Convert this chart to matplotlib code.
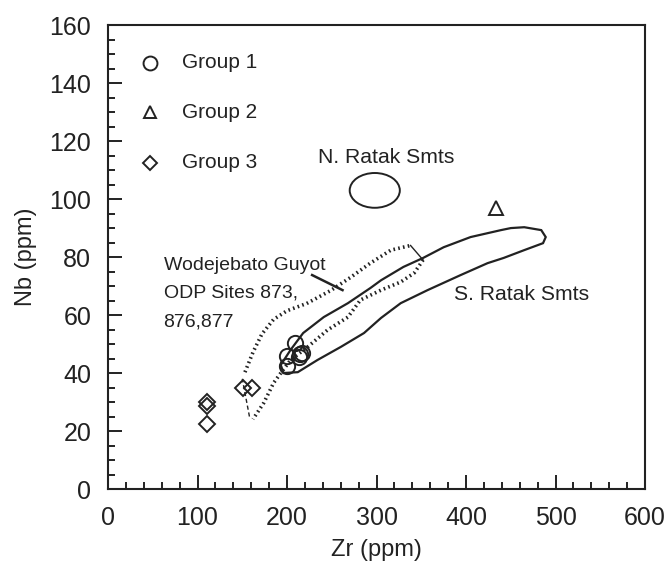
import matplotlib
matplotlib.use('Agg')
import matplotlib.pyplot as plt
from matplotlib.patches import Ellipse
from matplotlib.ticker import MultipleLocator

plt.rcParams['font.family'] = ['Liberation Sans', 'DejaVu Sans']

# Sample groups (Zr, Nb in ppm)
g1_zr = [209, 200, 200, 215, 213, 217]
g1_nb = [50.5, 46, 42.5, 46.5, 45.5, 47]
g2_zr = [434]
g2_nb = [97]
g3_zr = [111, 111, 111, 151, 161]
g3_nb = [30, 28.5, 22.5, 35, 35]

# S. Ratak Smts envelope (closed outline)
sratak_zr = [193, 204, 218, 241, 268, 293, 305, 330, 352, 375, 405, 439, 450, 465,
             484, 489, 486, 465, 442, 424, 394, 357, 327, 305, 286, 260, 234, 212,
             196, 193]
sratak_nb = [42.8, 48, 53.8, 59.3, 64.1, 69.3, 72, 76.6, 79.7, 83.4, 86.9, 89.3, 90,
             90.3, 89.3, 86.9, 84.8, 82.4, 79.7, 77.9, 73.8, 68.6, 64.1, 59, 53.8, 49,
             44.5, 40.3, 40, 42.8]

# Wodejebato Guyot envelope (dotted sides)
wod_upper_zr = [153, 162, 172, 185, 200, 222, 249, 271, 293, 316, 338]
wod_upper_nb = [40.3, 47.2, 53.5, 58.5, 61.5, 64, 68.5, 73, 77.9, 82.4, 84]
wod_lower_zr = [352, 342, 327, 305, 282, 268, 245, 223, 204, 193, 185, 174, 162]
wod_lower_nb = [79, 74.5, 71.4, 68.6, 65.2, 59.3, 54.8, 49, 44.5, 40, 36.6, 29.7, 24.1]
wod_top_end_zr = [338, 352]
wod_top_end_nb = [84, 79]
wod_low_end_zr = [158, 150]
wod_low_end_nb = [25, 38]

# N. Ratak Smts ellipse: centre, width, height
nratak_center = (298, 103)
nratak_size = (56, 12)

xticks = [0, 100, 200, 300, 400, 500, 600]
yticks = [0, 20, 40, 60, 80, 100, 120, 140, 160]

fig = plt.figure(figsize=(6.68, 5.65), dpi=100)
ax = fig.add_axes([0.1617, 0.1345, 0.804, 0.821])

lc = '#222222'
ax.fill(sratak_zr, sratak_nb, facecolor='none', edgecolor=lc, linewidth=1.6)
ax.plot(wod_upper_zr, wod_upper_nb, color=lc, linewidth=2.6, linestyle=(0, (0.45, 0.9)))
ax.plot(wod_lower_zr, wod_lower_nb, color=lc, linewidth=2.6, linestyle=(0, (0.45, 0.9)))
ax.plot(wod_top_end_zr, wod_top_end_nb, color=lc, linewidth=1.0)
ax.plot(wod_low_end_zr, wod_low_end_nb, color=lc, linewidth=1.0, linestyle=(0, (3, 2)))
ax.add_patch(Ellipse(nratak_center, nratak_size[0], nratak_size[1],
                     facecolor='none', edgecolor=lc, linewidth=1.4))

mk = dict(linestyle='none', markerfacecolor='none', markeredgecolor=lc, markeredgewidth=1.4)
ax.plot(g1_zr, g1_nb, marker='o', markersize=11, **mk)
ax.plot(g2_zr, g2_nb, marker='^', markersize=10, **mk)
ax.plot(g3_zr, g3_nb, marker='D', markersize=8, **mk)

# legend drawn as text
ax.plot([47], [147], marker='o', markersize=10, **mk)
ax.plot([47], [130], marker='^', markersize=9, **mk)
ax.plot([47], [112.5], marker='D', markersize=7, **mk)
ax.text(83, 147, 'Group 1', fontsize=15, va='center', color=lc)
ax.text(83, 130, 'Group 2', fontsize=15, va='center', color=lc)
ax.text(83, 112.5, 'Group 3', fontsize=15, va='center', color=lc)

ax.text(311, 114.5, 'N. Ratak Smts', fontsize=15.2, ha='center', va='center', color=lc)
ax.text(462, 67, 'S. Ratak Smts', fontsize=15.2, ha='center', va='center', color=lc)
ax.text(62, 77, 'Wodejebato Guyot', fontsize=14, va='center', color=lc)
ax.text(62, 67.5, 'ODP Sites 873,', fontsize=14, va='center', color=lc)
ax.text(62, 57.5, '876,877', fontsize=14, va='center', color=lc)
ax.plot([228, 262], [73.8, 68.6], color=lc, linewidth=1.8)

ax.set_xlim(0, 600)
ax.set_ylim(0, 160)
ax.set_xticks(xticks)
ax.set_yticks(yticks)
ax.xaxis.set_minor_locator(MultipleLocator(20))
ax.yaxis.set_minor_locator(MultipleLocator(5))
ax.tick_params(which='both', direction='in', top=False, right=False, width=1.4,
               color=lc, labelsize=18, labelcolor=lc)
ax.tick_params(which='major', length=10, pad=12)
ax.tick_params(which='minor', length=5)
for s in ax.spines.values():
    s.set_linewidth(1.5)
    s.set_color(lc)

ax.set_xlabel('Zr (ppm)', fontsize=17, color=lc, labelpad=7)
ax.set_ylabel('Nb (ppm)', fontsize=17, color=lc, labelpad=9)

fig.savefig('out.png', dpi=100)
